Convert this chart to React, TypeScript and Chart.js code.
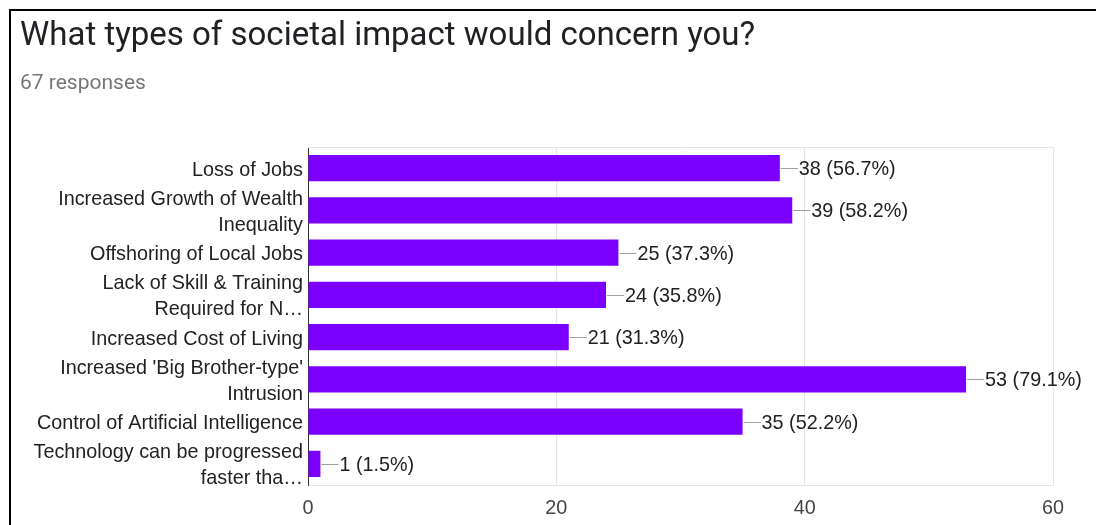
import React, { useEffect, useRef } from "react";
import { Chart, registerables } from "chart.js";

Chart.register(...registerables);

const TITLE = "What types of societal impact would concern you?";
const SUBTITLE = "67 responses";

const categories: string[][] = [
  ["Loss of Jobs"],
  ["Increased Growth of Wealth", "Inequality"],
  ["Offshoring of Local Jobs"],
  ["Lack of Skill & Training", "Required for N…"],
  ["Increased Cost of Living"],
  ["Increased 'Big Brother-type'", "Intrusion"],
  ["Control of Artificial Intelligence"],
  ["Technology can be progressed", "faster tha…"],
];
const counts = [38, 39, 25, 24, 21, 53, 35, 1];
const percents = ["56.7%", "58.2%", "37.3%", "35.8%", "31.3%", "79.1%", "52.2%", "1.5%"];
const xMin = 0;
const xMax = 60;
const xStep = 20;

const FONT = "'Liberation Sans', Arial, sans-serif";
const FS = 19.8;

const valueLabels = {
  id: "valueLabels",
  afterDatasetsDraw(chart: any) {
    const ctx = chart.ctx;
    const meta = chart.getDatasetMeta(0);
    ctx.save();
    ctx.font = `${FS}px ${FONT}`;
    ctx.textBaseline = "middle";
    ctx.textAlign = "left";
    meta.data.forEach((el: any, i: number) => {
      const x = el.x;
      const y = el.y;
      ctx.strokeStyle = "#9e9e9e";
      ctx.lineWidth = 1;
      ctx.beginPath();
      ctx.moveTo(x + 1, Math.round(y) + 0.5);
      ctx.lineTo(x + 18, Math.round(y) + 0.5);
      ctx.stroke();
      ctx.fillStyle = "#212121";
      ctx.fillText(`${counts[i]} (${percents[i]})`, x + 19, y + 1.5);
    });
    ctx.restore();
  },
  beforeDatasetsDraw(chart: any) {
    const { ctx, chartArea } = chart;
    ctx.save();
    ctx.strokeStyle = "#e6e6e6";
    ctx.lineWidth = 1;
    ctx.beginPath();
    ctx.moveTo(chartArea.left, chartArea.top + 0.5);
    ctx.lineTo(chartArea.right, chartArea.top + 0.5);
    ctx.stroke();
    ctx.restore();
  },
};

export default function App() {
  const ref = useRef<HTMLCanvasElement>(null);
  useEffect(() => {
    if (!ref.current) return;
    const chart = new Chart(ref.current, {
      type: "bar",
      data: {
        labels: categories,
        datasets: [
          {
            data: counts,
            backgroundColor: "#7b00ff",
            borderWidth: 0,
            barPercentage: 1,
            categoryPercentage: 0.62,
          },
        ],
      },
      options: {
        indexAxis: "y",
        animation: false,
        responsive: false,
        devicePixelRatio: 1,
        layout: { padding: { top: 136, right: 51, left: 0, bottom: 0 } },
        plugins: {
          legend: { display: false },
          tooltip: { enabled: false },
          title: { display: false },
        },
        scales: {
          x: {
            min: xMin,
            max: xMax,
            ticks: {
              stepSize: xStep,
              color: "#444",
              font: { family: FONT, size: FS },
              padding: 12,
            },
            grid: { color: "#e6e6e6", drawTicks: false },
            border: { display: true, color: "#e6e6e6" },
            afterFit: (s: any) => {
              s.height = 40;
            },
          },
          y: {
            ticks: {
              color: "#222",
              font: { family: FONT, size: FS, lineHeight: 1.31 },
              padding: 5,
              labelOffset: 2,
              autoSkip: false,
            },
            grid: { display: false, drawTicks: false },
            border: { display: true, color: "#333", width: 1 },
            afterFit: (s: any) => {
              s.width = 297;
            },
          },
        },
      },
      plugins: [valueLabels],
    });
    return () => chart.destroy();
  }, []);

  return (
    <div
      style={{
        position: "relative",
        top: 1,
        left: 1,
        width: 1095,
        height: 516,
        borderTop: "2px solid #000",
        borderLeft: "2px solid #000",
        background: "#fff",
        overflow: "hidden",
      }}
    >
      <canvas
        ref={ref}
        width={1093}
        height={514}
        style={{ position: "absolute", left: 0, top: 0 }}
      />
      <div
        style={{
          position: "absolute",
          left: 9,
          top: 3,
          fontFamily: "Roboto, sans-serif",
          fontSize: 33,
          lineHeight: "40px",
          color: "#202124",
          whiteSpace: "nowrap",
        }}
      >
        {TITLE}
      </div>
      <div
        style={{
          position: "absolute",
          left: 9,
          top: 58,
          fontFamily: "Roboto, sans-serif",
          fontSize: 21,
          lineHeight: "26px",
          color: "#777",
          whiteSpace: "nowrap",
        }}
      >
        {SUBTITLE}
      </div>
    </div>
  );
}
